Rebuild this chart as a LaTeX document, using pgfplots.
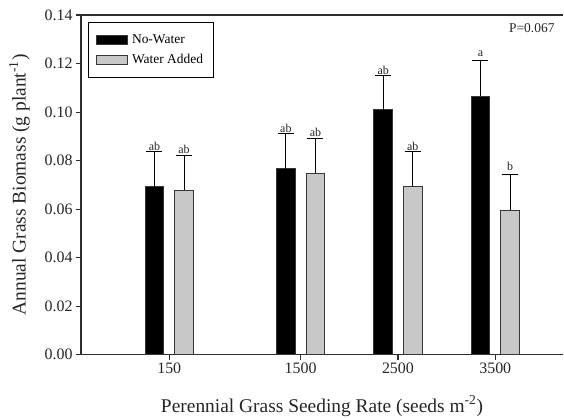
\documentclass[border=0pt]{standalone}
\usepackage{pgfplots}
\pgfplotsset{compat=1.18}
\usepackage{pgfplotstable}
\usepackage{fontspec}
\setmainfont{Liberation Serif}
\definecolor{barGray}{RGB}{200,200,200}
\definecolor{edgeGray}{RGB}{55,55,55}
\definecolor{axGray}{RGB}{45,45,45}

\pgfplotstableread{
x y e
150 0.0693 0.0143
1500 0.0766 0.0144
2500 0.1009 0.0141
3500 0.1066 0.0145
}\nowater
\pgfplotstableread{
x y e
150 0.0678 0.0143
1500 0.0748 0.0144
2500 0.0693 0.0143
3500 0.0596 0.0148
}\water

\begin{document}
\begin{tikzpicture}
\begin{axis}[
  name=ax,
  scale only axis, width=482bp, height=339.7bp,
  xmin=-757, xmax=4196, ymin=0, ymax=0.14,
  axis x line*=box, axis y line*=left,
  axis line style={axGray, line width=1.2bp},
  ybar, bar width=18.6bp,
  xtick={150,1500,2500,3500},
  xticklabels={150,1500,2500,3500},
  ytick={0,0.02,0.04,0.06,0.08,0.10,0.12,0.14},
  yticklabel style={/pgf/number format/.cd, fixed, fixed zerofill, precision=2, assume math mode=true},
  tick label style={font=\fontsize{16}{18}\selectfont, text=black!85},
  tick align=outside, tick pos=left,
  major tick length=5bp,
  tick style={axGray, line width=1.1bp},
  every axis y label/.style={at={(rel axis cs:0,0.5)}, xshift=-61.5bp, rotate=90, anchor=center, font=\fontsize{19.5}{22}\selectfont, text=black!85},
  every axis x label/.style={at={(rel axis cs:0.5,0)}, yshift=-57.6bp, anchor=base, font=\fontsize{19.5}{22}\selectfont, text=black!85},
  ylabel={Annual Grass Biomass (g plant\textsuperscript{-1})},
  xlabel={Perennial Grass Seeding Rate (seeds m\textsuperscript{-2})},
  legend image code/.code={\draw[#1, line width=0.8bp] (0bp,-4.5bp) rectangle (31bp,4.5bp); \path (33bp,0bp);},
  legend style={at={(0.014,0.98)}, anchor=north west, draw=black, line width=1bp,
    font=\fontsize{13.5}{15}\selectfont, inner xsep=8bp, inner ysep=10bp, row sep=6bp},
  legend cell align=left,
]
\addplot[fill=black, draw=edgeGray, line width=0.8bp, bar shift=-14.8bp,
  error bars/.cd, y dir=plus, y explicit,
  error bar style={black, line width=1bp},
  error mark options={black, line width=1bp, mark size=8bp, rotate=90}]
  table[x=x, y=y, y error=e] {\nowater};
\addlegendentry{No-Water}
\addplot[fill=barGray, draw=edgeGray, line width=0.8bp, bar shift=14.8bp,
  error bars/.cd, y dir=plus, y explicit,
  error bar style={black, line width=1bp},
  error mark options={black, line width=1bp, mark size=8bp, rotate=90}]
  table[x=x, y=y, y error=e] {\water};
\addlegendentry{Water Added}
\begin{scope}[every node/.style={font=\fontsize{12}{14}\selectfont, anchor=base, inner sep=0pt, text=black!85}]
\node[xshift=-14.8bp, yshift=1.5bp] at (axis cs:150,0.0836) {ab};
\node[xshift=14.8bp, yshift=1.5bp] at (axis cs:150,0.0821) {ab};
\node[xshift=-14.8bp, yshift=1.5bp] at (axis cs:1500,0.0910) {ab};
\node[xshift=14.8bp, yshift=1.5bp] at (axis cs:1500,0.0892) {ab};
\node[xshift=-14.8bp, yshift=1.5bp] at (axis cs:2500,0.1150) {ab};
\node[xshift=14.8bp, yshift=1.5bp] at (axis cs:2500,0.0836) {ab};
\node[xshift=-14.8bp, yshift=4bp] at (axis cs:3500,0.1211) {a};
\node[xshift=14.8bp, yshift=4bp] at (axis cs:3500,0.0744) {b};
\end{scope}
\node[font=\fontsize{13.5}{15}\selectfont, anchor=base east, inner sep=0pt, text=black!85] at (rel axis cs:1,1) [xshift=-8.3bp, yshift=-17.3bp] {P=0.067};
\end{axis}
\pgfresetboundingbox
\path[use as bounding box] (ax.south west) ++(-81bp,-63.3bp) rectangle ++(564bp,418bp);
\end{tikzpicture}
\end{document}
